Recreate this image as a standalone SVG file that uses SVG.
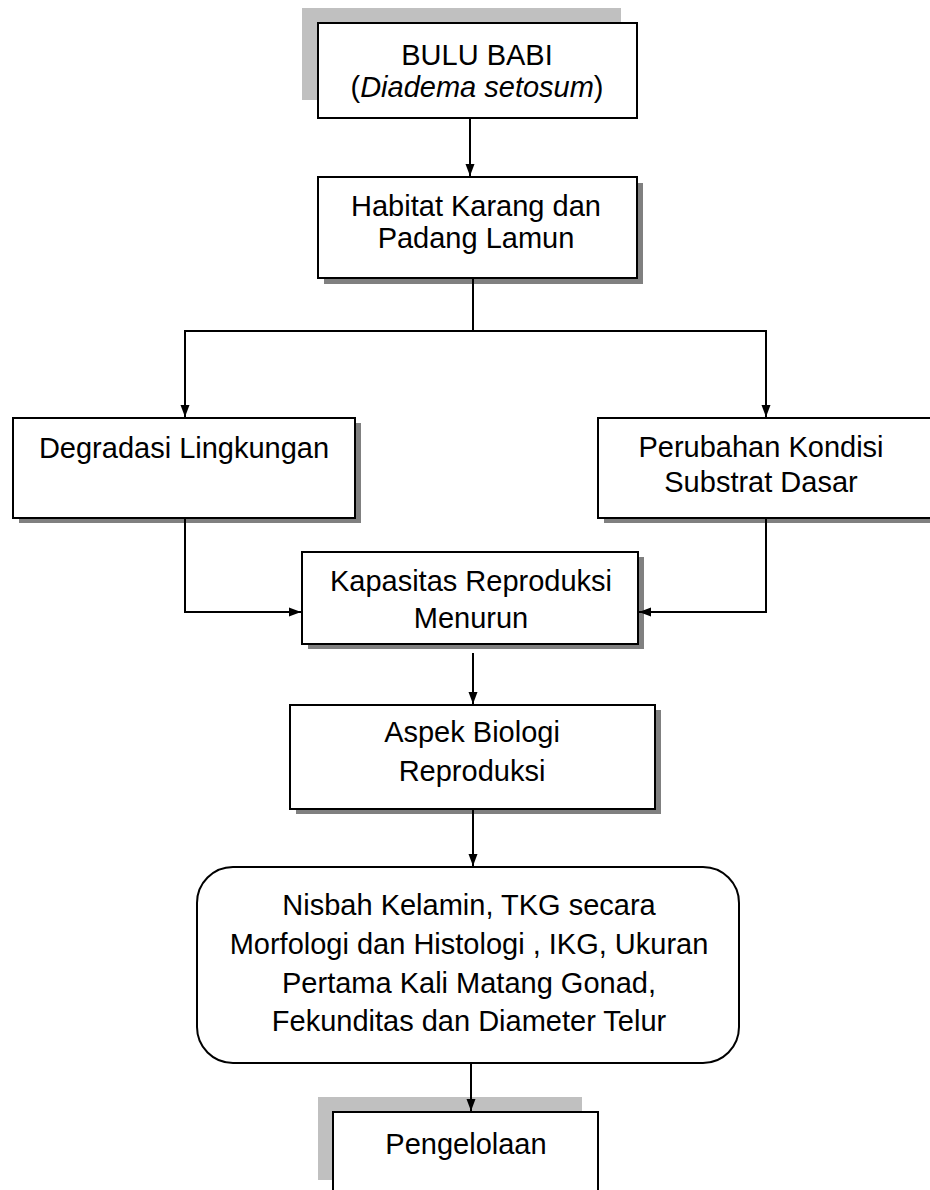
<svg xmlns="http://www.w3.org/2000/svg" width="930" height="1190" viewBox="0 0 930 1190">
<defs>
<marker id="ah" viewBox="0 0 12 10" refX="12" refY="5" markerWidth="12" markerHeight="10" markerUnits="userSpaceOnUse" orient="auto">
<path d="M0,0.5 L12,5 L0,9.5 z" fill="#000"/>
</marker>
</defs>
<style>
.box{fill:#fff;stroke:#000;stroke-width:2}
.sh{fill:#808080}
.lg{fill:#c0c0c0}
.t{font-family:"Liberation Sans",Arial,sans-serif;font-size:29px;fill:#000;text-anchor:middle}
.c{fill:none;stroke:#000;stroke-width:2}
</style>
<rect width="930" height="1190" fill="#fff"/>
<g id="n-bulu">
<rect class="lg" x="302" y="8" width="319" height="92"/>
<rect class="box" x="318" y="23" width="319" height="95"/>
<text class="t" x="477" y="65">BULU BABI</text>
<text class="t" x="477" y="97">(<tspan font-style="italic">Diadema setosum</tspan>)</text>
</g>
<g id="n-habitat">
<rect class="sh" x="324" y="183" width="319" height="101"/>
<rect class="box" x="318" y="177" width="319" height="101"/>
<text class="t" x="476" y="216">Habitat Karang dan</text>
<text class="t" x="476" y="248">Padang Lamun</text>
</g>
<g id="n-degradasi">
<rect class="sh" x="19" y="423" width="342" height="100"/>
<rect class="box" x="13" y="418" width="342" height="100"/>
<text class="t" x="184" y="458">Degradasi Lingkungan</text>
</g>
<g id="n-perubahan">
<rect class="sh" x="604" y="423" width="340" height="100"/>
<rect class="box" x="598" y="418" width="340" height="100"/>
<text class="t" x="761" y="457">Perubahan Kondisi</text>
<text class="t" x="761" y="492">Substrat Dasar</text>
</g>
<g id="n-kapasitas">
<rect class="sh" x="308" y="557" width="336" height="92"/>
<rect class="box" x="302" y="552" width="336" height="92"/>
<text class="t" x="471" y="591">Kapasitas Reproduksi</text>
<text class="t" x="471" y="628">Menurun</text>
</g>
<g id="n-aspek">
<rect class="sh" x="296" y="710" width="365" height="104"/>
<rect class="box" x="290" y="705" width="365" height="104"/>
<text class="t" x="472" y="742">Aspek Biologi</text>
<text class="t" x="472" y="781">Reproduksi</text>
</g>
<g id="n-nisbah">
<rect class="box" x="197" y="867" width="542" height="196" rx="36" ry="36"/>
<text class="t" x="469" y="915">Nisbah Kelamin, TKG secara</text>
<text class="t" x="469" y="954">Morfologi dan Histologi , IKG, Ukuran</text>
<text class="t" x="469" y="993">Pertama Kali Matang Gonad,</text>
<text class="t" x="469" y="1031">Fekunditas dan Diameter Telur</text>
</g>
<g id="n-pengelolaan">
<rect class="lg" x="318" y="1097" width="264" height="83"/>
<rect class="box" x="333" y="1112" width="265" height="100"/>
<text class="t" x="466" y="1154">Pengelolaan</text>
</g>
<g id="connectors">
<path class="c" d="M470,118 V176" marker-end="url(#ah)"/>
<path class="c" d="M473,278 V331"/>
<path class="c" d="M184,331 H767"/>
<path class="c" d="M185,331 V417" marker-end="url(#ah)"/>
<path class="c" d="M766,331 V417" marker-end="url(#ah)"/>
<path class="c" d="M185,518 V612 H301" marker-end="url(#ah)"/>
<path class="c" d="M766,518 V612 H639" marker-end="url(#ah)"/>
<path class="c" d="M473,653 V704" marker-end="url(#ah)"/>
<path class="c" d="M473,809 V866" marker-end="url(#ah)"/>
<path class="c" d="M471,1063 V1111" marker-end="url(#ah)"/>
</g>
</svg>
